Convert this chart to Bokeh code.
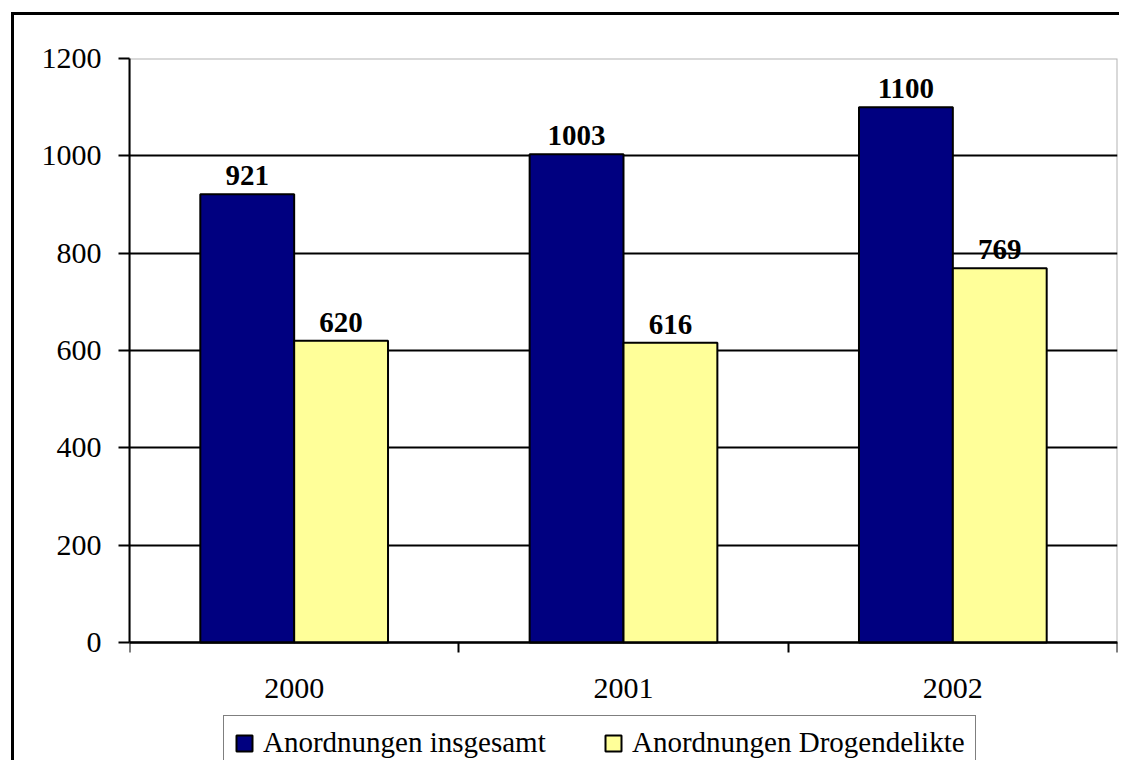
from bokeh.plotting import figure
from bokeh.models import (ColumnDataSource, FixedTicker, Legend, LegendItem,
                          LabelSet, Range1d, BoxAnnotation)
from bokeh.transform import dodge
from bokeh.embed import file_html
from bokeh.resources import INLINE

years = ["2000", "2001", "2002"]
insgesamt = [921, 1003, 1100]
drogen = [620, 616, 769]
series_names = ["Anordnungen insgesamt", "Anordnungen Drogendelikte"]
y_ticks = [0, 200, 400, 600, 800, 1000, 1200]

FONT = "Liberation Serif"
NAVY = "#000080"
YELLOW = "#FFFF99"

W, H = 1119, 760
TOP, LEFT, RIGHT = 58, 129, 2
PLOT_H = 584                      # pixel height of the 0..1200 value area
below_px = H - TOP - PLOT_H       # space under the zero line (axis labels, legend)
ymax = y_ticks[-1]
ymin = -ymax * below_px / PLOT_H

xc = [i + 0.5 for i in range(len(years))]
src = ColumnDataSource(dict(
    x=xc, ins=insgesamt, dro=drogen,
    ins_t=[str(v) for v in insgesamt], dro_t=[str(v) for v in drogen],
))

p = figure(width=W, height=H, output_backend="svg", toolbar_location=None,
           x_range=Range1d(0, len(years)), y_range=Range1d(ymin, ymax),
           min_border_left=LEFT, min_border_right=RIGHT, min_border_top=TOP,
           min_border_bottom=0)

BW = 0.285
OFF = BW / 2
r1 = p.vbar(x=dodge("x", -OFF), top="ins", bottom=0, width=BW, source=src,
            fill_color=NAVY, line_color="black", line_width=2)
r2 = p.vbar(x=dodge("x", OFF), top="dro", bottom=0, width=BW, source=src,
            fill_color=YELLOW, line_color="black", line_width=2)

for col, off in (("ins", -OFF), ("dro", OFF)):
    p.add_layout(LabelSet(x=dodge("x", off), y=col, text=col + "_t", source=src,
                          text_font=FONT, text_font_size="29px",
                          text_font_style="bold", text_align="center",
                          text_baseline="alphabetic", y_offset=9,
                          text_color="black"))

# axes
p.xaxis.fixed_location = 0
p.xaxis.ticker = FixedTicker(ticks=xc, minor_ticks=list(range(len(years) + 1)))
p.xaxis.major_label_overrides = {x: y for x, y in zip(xc, years)}
p.xaxis.major_tick_out = 0
p.xaxis.major_tick_in = 0
p.xaxis.minor_tick_out = 10
p.xaxis.minor_tick_in = 0
p.xaxis.minor_tick_line_color = "black"
p.xaxis.minor_tick_line_width = 2
p.xaxis.major_label_standoff = 26

p.yaxis.bounds = (0, ymax)
p.yaxis.ticker = FixedTicker(ticks=y_ticks)
p.yaxis.major_tick_out = 11
p.yaxis.major_tick_in = 0
p.yaxis.minor_tick_out = 0
p.yaxis.minor_tick_in = 0
p.yaxis.major_label_standoff = 17

for ax in (p.xaxis, p.yaxis):
    ax.axis_line_color = "black"
    ax.axis_line_width = 2
    ax.major_tick_line_color = "black"
    ax.major_tick_line_width = 2
    ax.major_label_text_font = FONT
    ax.major_label_text_font_size = "30px"
    ax.major_label_text_color = "black"

p.xgrid.grid_line_color = None
p.ygrid.grid_line_color = "black"
p.ygrid.grid_line_width = 2
p.ygrid.ticker = FixedTicker(ticks=y_ticks)

# plot-area border (0..n categories, 0..max tick)
p.add_layout(BoxAnnotation(left=0, right=len(years), bottom=0, top=ymax,
                           fill_alpha=0, line_color="black", line_width=2,
                           level="underlay"))

p.outline_line_color = None
p.background_fill_color = "white"
p.border_fill_alpha = 0

# outer chart border (left and top edges visible in the reference)
p.styles = {
    "background": ("linear-gradient(#000, #000) 11px 12px / 3px 100% no-repeat, "
                   "linear-gradient(#000, #000) 11px 12px / 100% 3px no-repeat, "
                   "#fff"),
}

legend = Legend(items=[LegendItem(label=series_names[0], renderers=[r1]),
                       LegendItem(label=series_names[1], renderers=[r2])],
                orientation="horizontal", location=(94, -10),
                label_text_font=FONT, label_text_font_size="29px",
                label_text_color="black", glyph_width=20, glyph_height=20,
                label_standoff=9, label_width=333, spacing=7, padding=10,
                margin=0, border_line_color="black", border_line_width=1,
                background_fill_color="white", background_fill_alpha=1)
p.add_layout(legend, "center")

open("out.html", "w").write(file_html(p, INLINE))
